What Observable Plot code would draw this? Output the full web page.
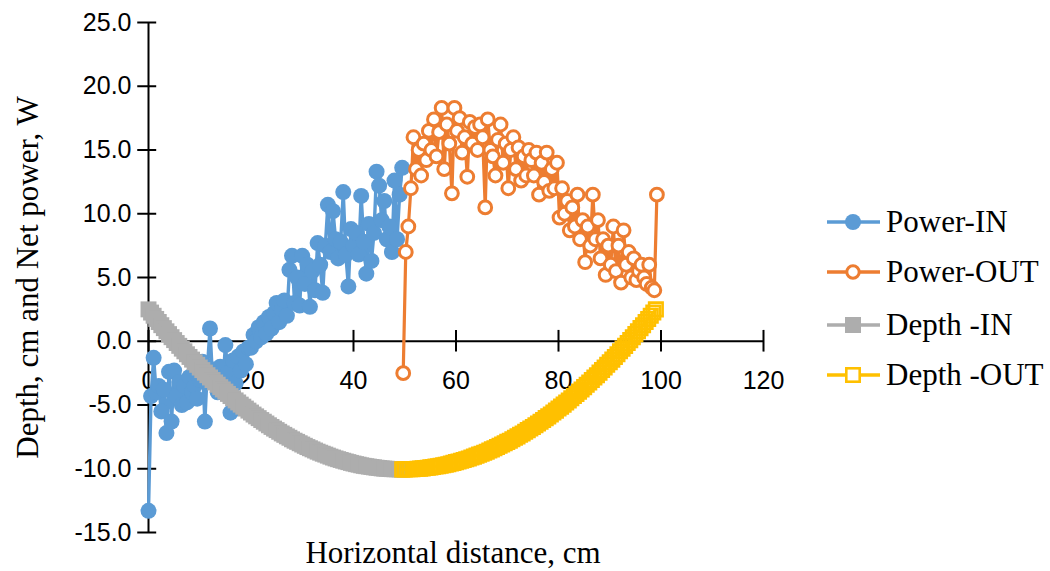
<!DOCTYPE html>
<html>
<head>
<meta charset="utf-8">
<script src="https://cdn.jsdelivr.net/npm/d3@7"></script>
<script src="https://cdn.jsdelivr.net/npm/@observablehq/plot@0.6"></script>
<style>
  html, body { margin: 0; padding: 0; background: #fff; }
  #wrap { position: relative; width: 1050px; height: 571px; overflow: hidden; }
  .leg { position: absolute; left: 826px; display: flex; align-items: center; transform: translateY(-50%);
         font-family: "Liberation Serif", "Times New Roman", serif; font-size: 31px; color: #000; white-space: nowrap; }
  .leg svg { margin-right: 4px; }
</style>
</head>
<body>
<div id="wrap"></div>
<script>
// ---- data ----
const seriesNames = ["Power-IN", "Power-OUT", "Depth -IN", "Depth -OUT"];
const xTicks = [0, 20, 40, 60, 80, 100, 120];
const yTicks = [-15, -10, -5, 0, 5, 10, 15, 20, 25];

// Power-IN, distances 0 .. 49.5 cm every 0.5 cm
const powerIn = [
  -13.3, -4.3, -1.3, -4.0, -3.5, -5.5, -3.8, -7.2, -2.4, -6.3,
  -2.3, -4.3, -3.2, -5.0, -3.5, -4.8, -2.8, -4.0, -3.5, -4.5,
  -3.0, -1.6, -6.3, -2.0, 1.0, -3.0, -2.5, -4.0, -2.0, -3.5,
  -0.3, -2.5, -5.6, -1.5, -3.3, -1.2, -2.3, -0.8, -1.8, -0.5,
  -0.5, 0.5, 0.0, 1.1, 0.3, 1.5, 0.6, 1.9, 1.0, 2.2,
  3.0, 1.5, 2.5, 3.2, 2.0, 5.6, 6.7, 3.0, 5.0, 2.8,
  6.7, 4.5, 6.0, 2.7, 5.5, 4.0, 7.7, 6.0, 3.8, 7.5,
  10.7, 7.0, 10.2, 8.0, 6.5, 7.8, 11.7, 6.8, 4.3, 8.8,
  7.5, 8.5, 6.8, 11.4, 7.8, 5.3, 9.2, 6.3, 8.5, 13.3,
  12.2, 9.5, 11.0, 8.0, 9.0, 7.0, 12.6, 8.0, 11.5, 13.6
];
const powerInStart = 0, powerInStep = 0.5;

// Power-OUT, distances 49.7 .. 99.2 cm every 0.5 cm
const powerOut = [
  -2.5, 7.0, 9.0, 12.0, 16.0, 13.5, 15.0, 13.0, 15.5, 14.2,
  16.5, 15.0, 17.4, 14.5, 16.4, 18.3, 13.5, 17.0, 15.5, 11.6,
  18.3, 16.5, 17.5, 14.8, 16.0, 12.9, 17.2, 15.5, 16.8, 15.0,
  17.0, 16.0, 10.5, 17.4, 15.0, 14.5, 13.0, 15.8, 17.0, 14.0,
  15.5, 12.0, 15.0, 16.0, 13.5, 15.2, 12.6, 14.5, 13.0, 15.0,
  14.2, 13.0, 14.8, 11.5, 14.0, 12.5, 14.8, 11.8, 13.5, 12.0,
  14.0, 9.7, 12.0, 10.0, 11.0, 8.7, 10.5, 9.0, 11.5, 8.0,
  9.5, 6.2, 9.0, 7.5, 11.5, 8.0, 9.5, 6.5, 8.0, 5.2,
  7.5, 6.0, 9.0, 5.5, 7.5, 4.6, 8.7, 6.0, 7.0, 5.0,
  6.5, 4.8, 5.5, 6.0, 5.0, 4.5, 6.0, 4.2, 4.0, 11.5
];
const powerOutStart = 49.7, powerOutStep = 0.5;

// Depth -IN, distances 0 .. 49.5 cm every 0.5 cm
const depthIn = [
  2.50, 2.25, 2.00, 1.75, 1.51, 1.26, 1.03, 0.78, 0.56, 0.32,
  0.09, -0.14, -0.36, -0.58, -0.79, -1.02, -1.23, -1.44, -1.65, -1.85,
  -2.06, -2.26, -2.46, -2.66, -2.84, -3.04, -3.23, -3.41, -3.60, -3.78,
  -3.95, -4.13, -4.30, -4.47, -4.64, -4.80, -4.97, -5.13, -5.28, -5.44,
  -5.59, -5.75, -5.89, -6.03, -6.18, -6.31, -6.45, -6.59, -6.72, -6.85,
  -6.97, -7.10, -7.23, -7.34, -7.46, -7.57, -7.69, -7.80, -7.89, -8.00,
  -8.10, -8.20, -8.30, -8.39, -8.48, -8.57, -8.66, -8.74, -8.82, -8.89,
  -8.97, -9.05, -9.12, -9.19, -9.25, -9.31, -9.37, -9.43, -9.48, -9.54,
  -9.59, -9.64, -9.68, -9.73, -9.77, -9.80, -9.83, -9.86, -9.89, -9.92,
  -9.94, -9.97, -9.99, -10.00, -10.02, -10.03, -10.04, -10.04, -10.05, -10.05
];
const depthInStart = 0, depthInStep = 0.5;

// Depth -OUT, distances 49.5 .. 99 cm every 0.5 cm
const depthOut = [
  -10.05, -10.05, -10.04, -10.04, -10.03, -10.02, -10.00, -9.99, -9.97, -9.94,
  -9.92, -9.89, -9.86, -9.83, -9.80, -9.77, -9.73, -9.68, -9.64, -9.59,
  -9.54, -9.48, -9.43, -9.37, -9.31, -9.25, -9.19, -9.12, -9.05, -8.97,
  -8.89, -8.82, -8.74, -8.66, -8.57, -8.48, -8.39, -8.30, -8.20, -8.10,
  -8.00, -7.89, -7.80, -7.69, -7.57, -7.46, -7.34, -7.23, -7.10, -6.97,
  -6.85, -6.72, -6.59, -6.45, -6.31, -6.18, -6.03, -5.89, -5.75, -5.59,
  -5.44, -5.28, -5.13, -4.97, -4.80, -4.64, -4.47, -4.30, -4.13, -3.95,
  -3.78, -3.60, -3.41, -3.23, -3.04, -2.84, -2.66, -2.46, -2.26, -2.06,
  -1.85, -1.65, -1.44, -1.23, -1.02, -0.79, -0.58, -0.36, -0.14, 0.09,
  0.32, 0.56, 0.78, 1.03, 1.26, 1.51, 1.75, 2.00, 2.25, 2.50
];
const depthOutStart = 49.5, depthOutStep = 0.5;

const colors = ["#5B9BD5", "#ED7D31", "#ADADAD", "#FFC000"];

// ---- build rows ----
const rows = (vals, start, step) => vals.map((v, i) => ({x: start + i * step, y: v}));
const pIn = rows(powerIn, powerInStart, powerInStep);
const pOut = rows(powerOut, powerOutStart, powerOutStep);
const dIn = rows(depthIn, depthInStart, depthInStep);
const dOut = rows(depthOut, depthOutStart, depthOutStep);

const sans = "'Liberation Sans', Arial, sans-serif";
const serif = "'Liberation Serif', 'Times New Roman', serif";

const chart = Plot.plot({
  width: 1050,
  height: 571,
  marginLeft: 148,
  marginRight: 287,
  marginTop: 22,
  marginBottom: 39,
  x: {domain: [0, 120], axis: null},
  y: {domain: [-15, 25], axis: null},
  style: {background: "#fff", overflow: "visible"},
  marks: [
    // axes crossing at 0
    Plot.ruleY([0], {x1: 0, x2: 120, stroke: "#000", strokeWidth: 2}),
    Plot.ruleX([0], {y1: -15, y2: 25, stroke: "#000", strokeWidth: 2}),
    Plot.ruleX(xTicks, {x: d => d, y1: -0.85, y2: 0.85, stroke: "#000", strokeWidth: 2}),
    Plot.ruleY(yTicks, {y: d => d, x1: -2.1, x2: 1.6, stroke: "#000", strokeWidth: 2}),
    Plot.text(xTicks, {x: d => d, y: 0, text: d => String(d), dy: 40, fontSize: 25, fontFamily: sans, fill: "#000"}),
    Plot.text(yTicks, {x: 0, y: d => d, text: d => d.toFixed(1), dx: -17, textAnchor: "end", fontSize: 25, fontFamily: sans, fill: "#000"}),
    // axis titles
    Plot.text(["Depth, cm and Net power, W"], {frameAnchor: "left", dx: -120, rotate: -90, textAnchor: "middle", lineAnchor: "middle", fontSize: 31, fontFamily: serif, fill: "#000"}),
    Plot.text(["Horizontal distance, cm"], {frameAnchor: "bottom", dx: -3, dy: 21, textAnchor: "middle", lineAnchor: "middle", fontSize: 31, fontFamily: serif, fill: "#000"}),
    // Power-IN
    Plot.line(pIn, {x: "x", y: "y", stroke: colors[0], strokeWidth: 3.4}),
    Plot.dot(pIn, {x: "x", y: "y", r: 8, fill: colors[0], stroke: "none"}),
    // Power-OUT
    Plot.line(pOut, {x: "x", y: "y", stroke: colors[1], strokeWidth: 3.2}),
    Plot.dot(pOut, {x: "x", y: "y", r: 6.4, fill: "#fff", stroke: colors[1], strokeWidth: 3}),
    // Depth -IN
    Plot.line(dIn, {x: "x", y: "y", stroke: colors[2], strokeWidth: 3}),
    Plot.dot(dIn, {x: "x", y: "y", symbol: "square", r: 9, fill: colors[2], stroke: "none"}),
    // Depth -OUT
    Plot.line(dOut, {x: "x", y: "y", stroke: colors[3], strokeWidth: 3}),
    Plot.dot(dOut, {x: "x", y: "y", symbol: "square", r: 7.6, fill: "none", stroke: colors[3], strokeWidth: 2.6})
  ]
});

const wrap = document.getElementById("wrap");
wrap.appendChild(chart);

// legend at the right
const legendY = [222, 272, 325, 375];
const markerSvg = [
  c => `<circle cx="27" cy="11" r="8" fill="${c}"/>`,
  c => `<circle cx="27" cy="11" r="6.2" fill="#fff" stroke="${c}" stroke-width="3"/>`,
  c => `<rect x="19" y="3" width="16" height="16" fill="${c}"/>`,
  c => `<rect x="20.3" y="4.3" width="13.4" height="13.4" fill="#fff" stroke="${c}" stroke-width="2.6"/>`
];
seriesNames.forEach((name, i) => {
  const d = document.createElement("div");
  d.className = "leg";
  d.style.top = legendY[i] + "px";
  d.innerHTML = `<svg width="56" height="22" viewBox="0 0 56 22"><line x1="1" x2="54" y1="11" y2="11" stroke="${colors[i]}" stroke-width="3.4"/>${markerSvg[i](colors[i])}</svg><span>${name}</span>`;
  wrap.appendChild(d);
});
</script>
</body>
</html>
